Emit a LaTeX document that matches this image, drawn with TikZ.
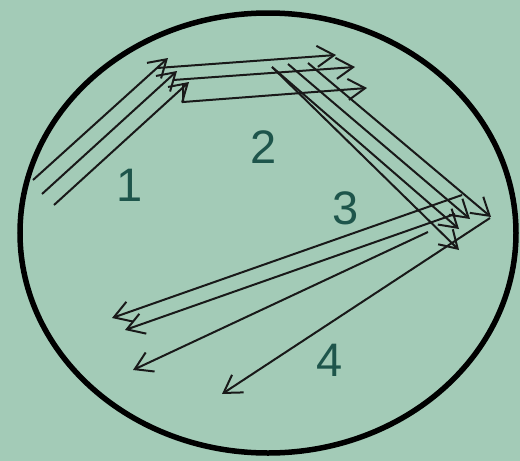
\documentclass[tikz,border=0pt]{standalone}
\usepackage{fontspec}
\setmainfont{Liberation Sans}
\usetikzlibrary{arrows.meta}
\definecolor{bgcol}{RGB}{163,203,183}
\definecolor{lblcol}{RGB}{30,85,75}
\begin{document}
\begin{tikzpicture}[x=1pt,y=-1pt,
  arr/.style={-{Straight Barb[length=17pt,width=21pt,line width=2pt]}, line width=2pt, black!90},
  lbl/.style={text=lblcol, font=\fontsize{47}{47}\selectfont, inner sep=0pt}]
\fill[bgcol] (0,0) rectangle (520,461);
\useasboundingbox (0,0) rectangle (520,461);
\draw[line width=5.5pt] (268,233) ellipse [x radius=248pt, y radius=220pt];
% group 1
\coordinate (a1s) at (33,180);  \coordinate (a1e) at (168,58);
\coordinate (a2s) at (42,194);  \coordinate (a2e) at (177,71);
\coordinate (a3s) at (54,205);  \coordinate (a3e) at (189,82);
\draw[arr] (a1s) -- (a1e);
\draw[arr] (a2s) -- (a2e);
\draw[arr] (a3s) -- (a3e);
% group 2
\coordinate (b1s) at (157,68);  \coordinate (b1e) at (336,55);
\coordinate (b2s) at (173,80);  \coordinate (b2e) at (355,67);
\coordinate (b3t) at (183,83);  \coordinate (b3s) at (183,102); \coordinate (b3e) at (367,88);
\draw[arr] (b1s) -- (b1e);
\draw[arr] (b2s) -- (b2e);
\draw[arr] (b3t) -- (b3s) -- (b3e);
% group 3
\coordinate (c1s) at (272,67);  \coordinate (c1e) at (459,250);
\coordinate (c2s) at (272,67);  \coordinate (c2e) at (459,229);
\coordinate (c3s) at (288,64);  \coordinate (c3e) at (470,219);
\coordinate (c4s) at (308,63);  \coordinate (c4e) at (491,217);
\draw[arr] (c1s) -- (c1e);
\draw[arr] (c2s) -- (c2e);
\draw[arr] (c3s) -- (c3e);
\draw[arr] (c4s) -- (c4e);
% group 4
\coordinate (d1s) at (462,195); \coordinate (d1e) at (112,318);
\coordinate (d2s) at (455,214); \coordinate (d2e) at (125,330);
\coordinate (d3s) at (428,232); \coordinate (d3e) at (133,370);
\coordinate (d4s) at (490,218); \coordinate (d4e) at (222,394);
\draw[arr] (d1s) -- (d1e);
\draw[arr] (d2s) -- (d2e);
\draw[arr] (d3s) -- (d3e);
\draw[arr] (d4s) -- (d4e);
% labels
\node[lbl] (l1) at (130,185) {1};
\node[lbl] (l2) at (264,147) {2};
\node[lbl] (l3) at (346,208) {3};
\node[lbl] (l4) at (330,360) {4};
\end{tikzpicture}
\end{document}
